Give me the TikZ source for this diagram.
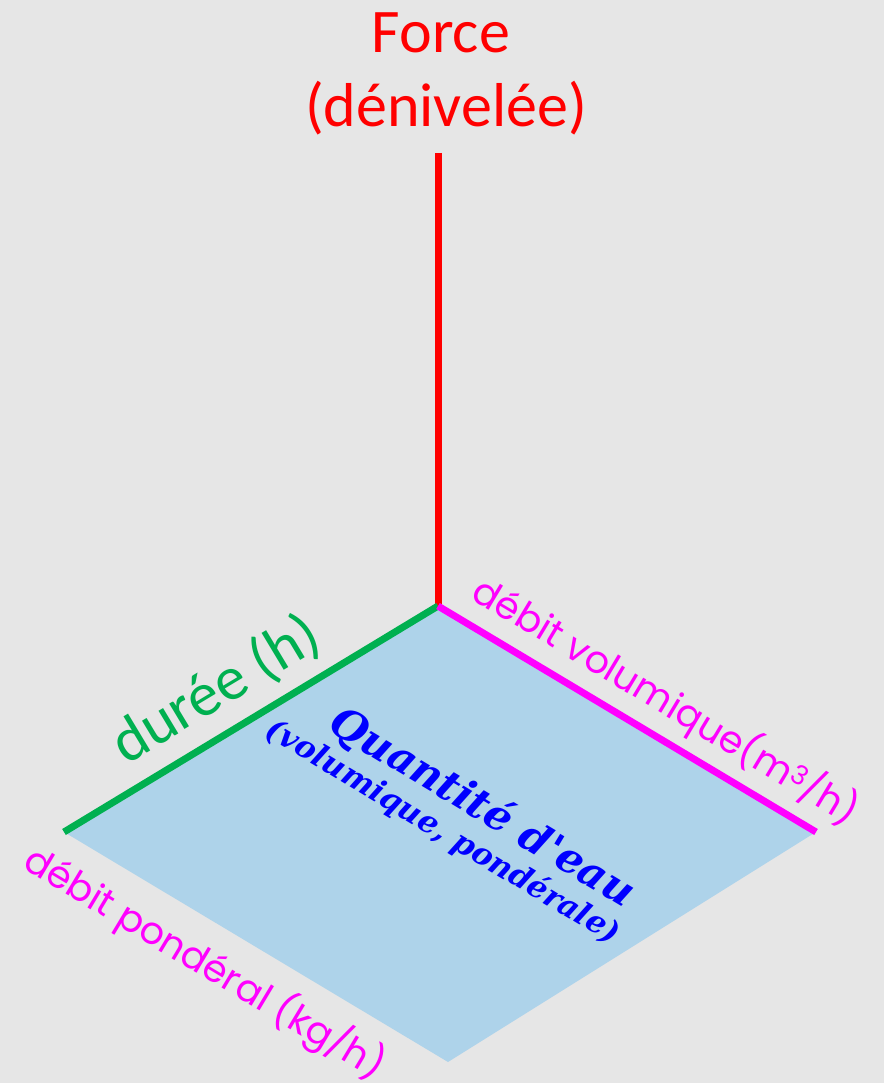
\documentclass[tikz,border=0pt]{standalone}
\usepackage{fontspec}
\setmainfont{Carlito}
\newfontfamily\popfont{Poppins}
\newfontfamily\slabfont{DejaVu Serif}
\definecolor{bgcol}{HTML}{E6E6E6}
\definecolor{planecol}{HTML}{AED3EA}
\definecolor{axred}{HTML}{FF0000}
\definecolor{axgreen}{HTML}{00B050}
\definecolor{axmag}{HTML}{FF00FF}
\definecolor{txtblue}{HTML}{0000FF}
\tikzset{
  axis/.style={line width=7pt, line cap=butt},
  bigtxt/.style={inner sep=0pt, font=\fontsize{62}{75}\selectfont},
  magtxt/.style={inner sep=0pt, text=axmag, font=\popfont\fontsize{38}{46}\selectfont, rotate=-31},
  bluetxt/.style={inner sep=0pt, text=txtblue, rotate=-31}
}
\begin{document}
\begin{tikzpicture}[x=1pt,y=-1pt]
\fill[bgcol] (0,0) rectangle (884,1083);
\useasboundingbox (0,0) rectangle (884,1083);
\coordinate (O) at (438,606);
\coordinate (L) at (64,832);
\coordinate (R) at (816,832);
\coordinate (B) at (448,1062);
\coordinate (T) at (438,153);
\fill[planecol] (O) -- (R) -- (B) -- (L) -- cycle;
\draw[axis, axred] (T) -- (O);
\draw[axis, axgreen] (O) -- (L);
\draw[axis, axmag] (O) -- (R);
\node[bigtxt, text=axred] (force) at (441,33) {Force};
\node[bigtxt, text=axred] (deniv) at (446,108) {(dénivelée)};
\node[bigtxt, text=axgreen, rotate=31] (duree) at (216,690) {durée (h)};
\node[magtxt] (dvol) at (666,701) {débit volumique(m\textsuperscript{3}/h)};
\node[magtxt] (dpond) at (205,963) {débit pondéral (kg/h)};
\node[bluetxt, font=\slabfont\bfseries\itshape\fontsize{42}{48}\selectfont] (quant) at (482,808) {Quantité d'eau};
\node[bluetxt, font=\slabfont\bfseries\itshape\fontsize{31}{36}\selectfont] (volp) at (443,832) {(volumique, pondérale)};
\end{tikzpicture}
\end{document}
